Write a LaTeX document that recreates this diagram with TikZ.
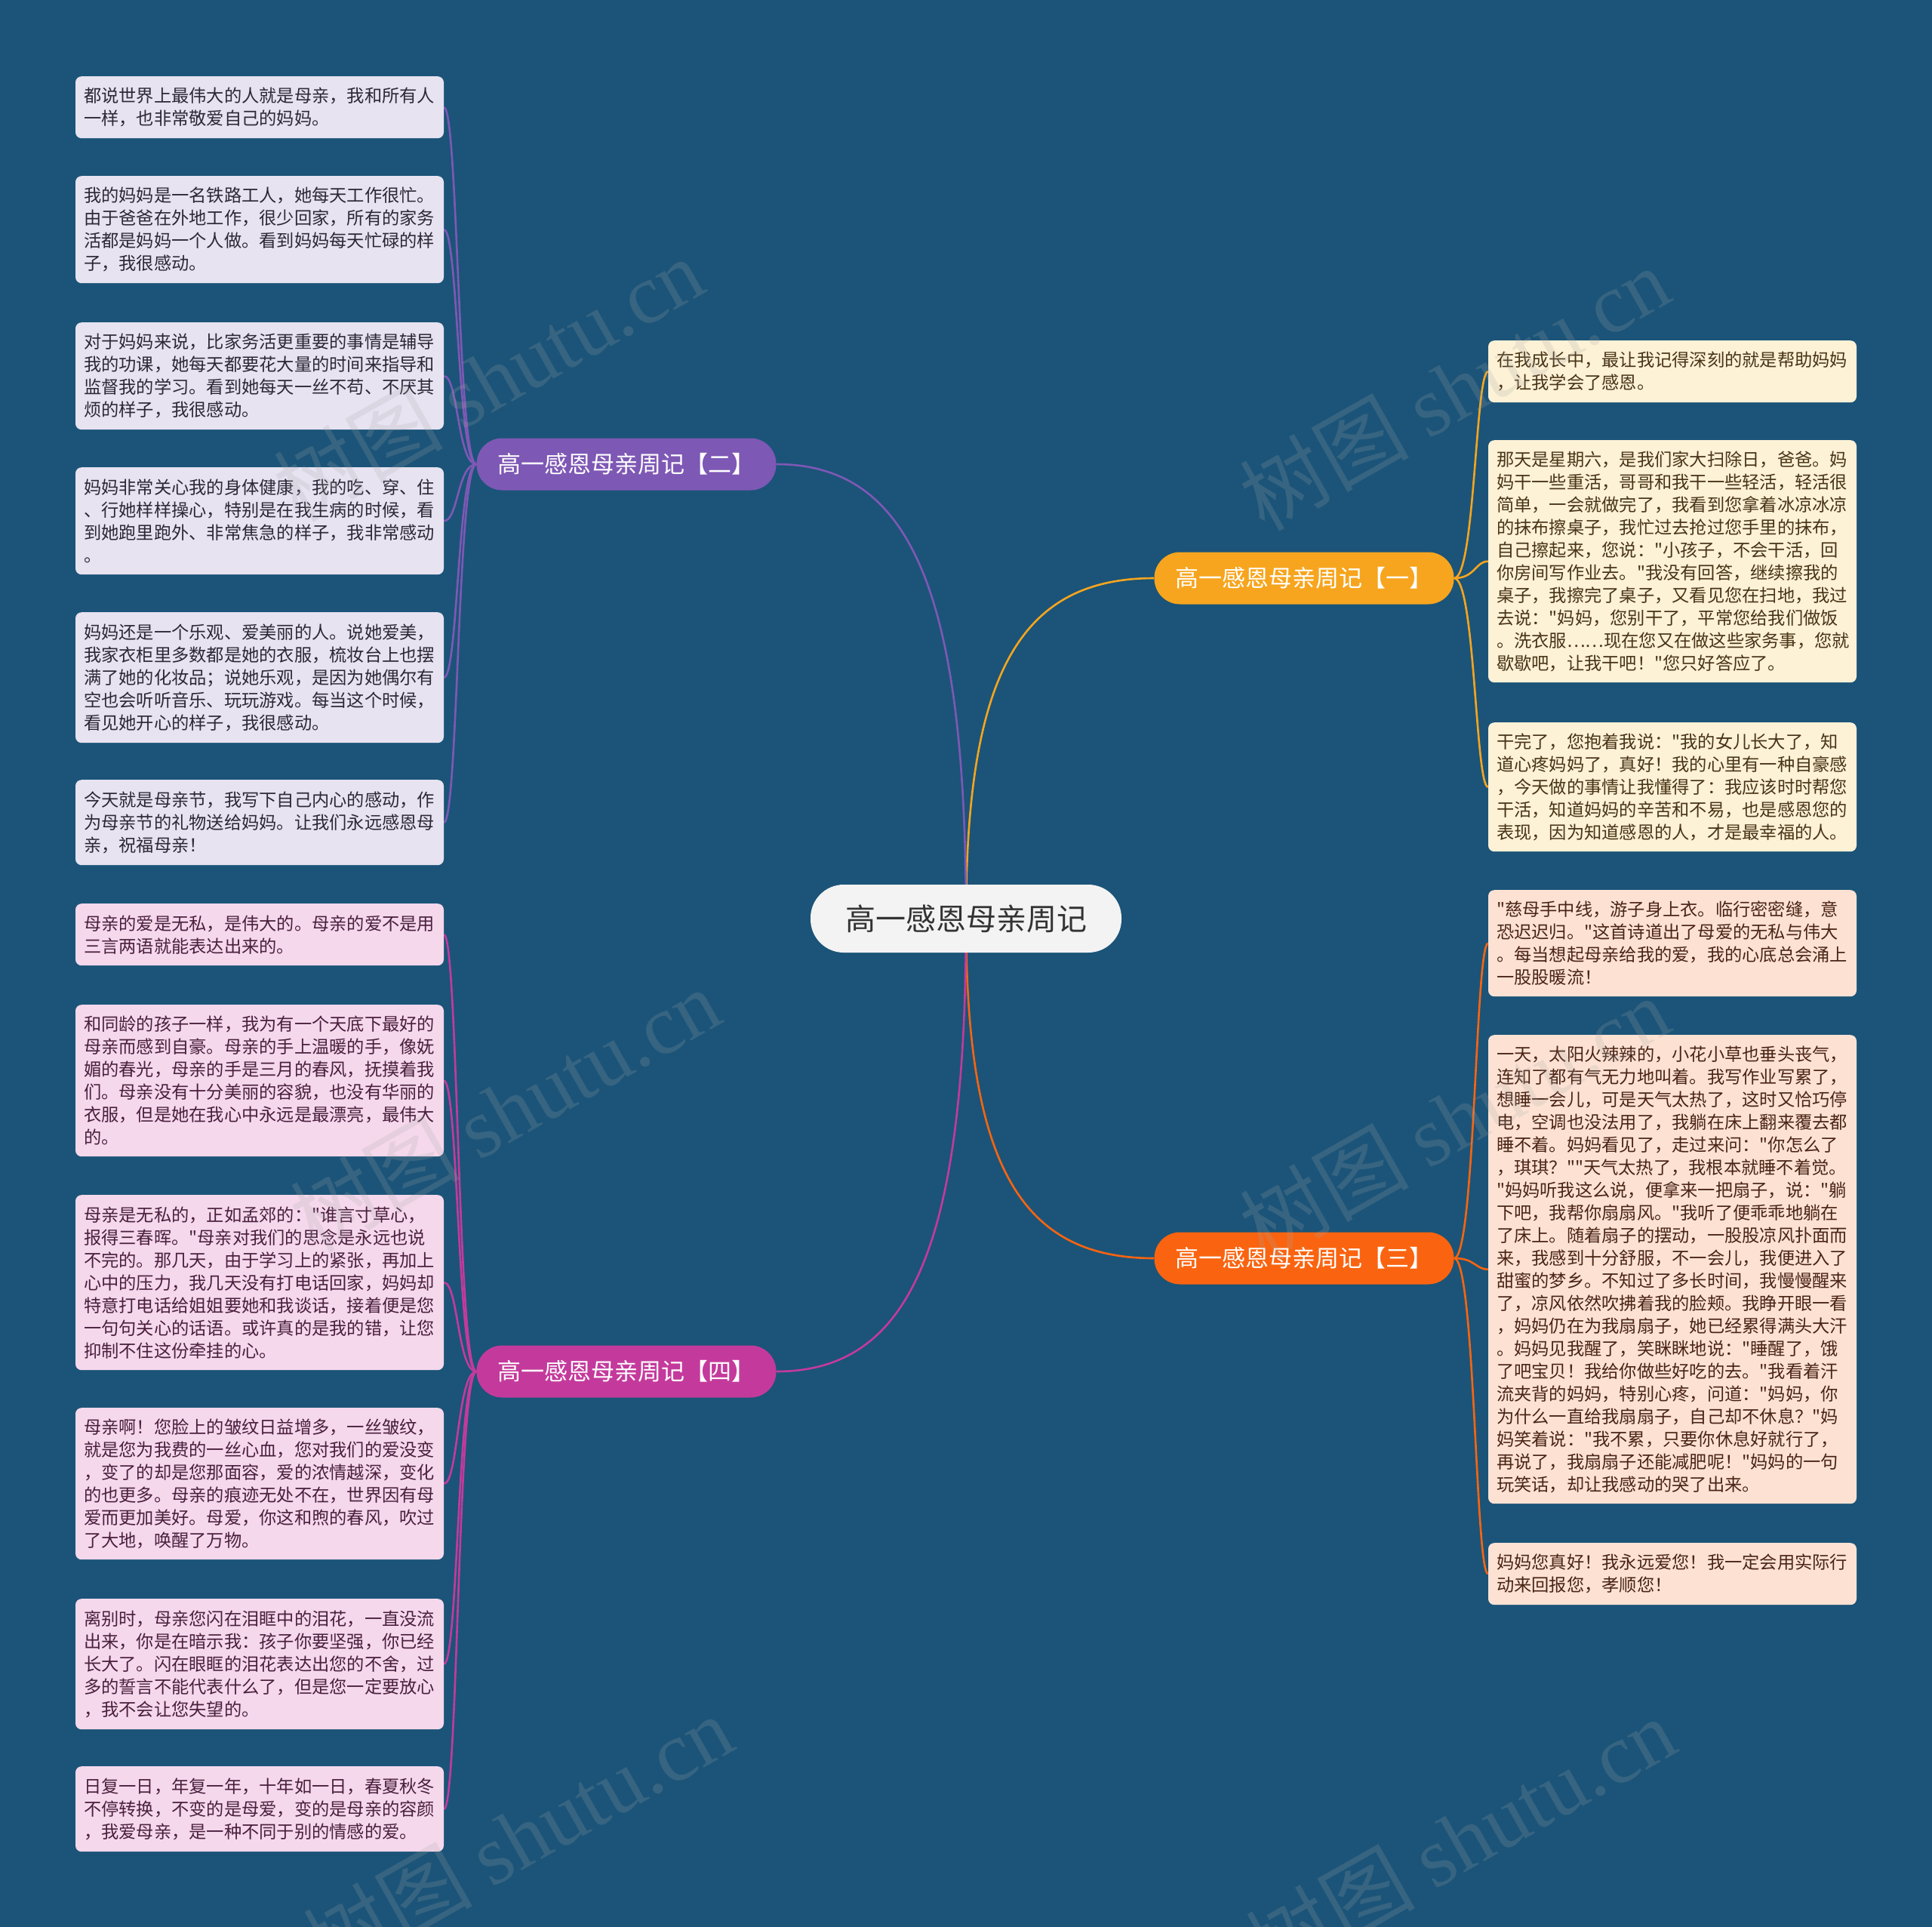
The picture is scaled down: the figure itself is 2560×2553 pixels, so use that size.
\documentclass[tikz,border=0pt]{standalone}
\usepackage{fontspec}
\setmainfont{Noto Sans CJK SC}[Ligatures=TeXOff]
\newfontfamily\wmlatin{Liberation Serif}
\pgfdeclarelayer{bglayer}
\pgfdeclarelayer{edgelayer}
\pgfsetlayers{bglayer,edgelayer,main}
\definecolor{bgc}{RGB}{27,84,120}
\definecolor{colA}{RGB}{247,165,30}
\definecolor{colB}{RGB}{126,88,181}
\definecolor{colC}{RGB}{250,100,16}
\definecolor{colD}{RGB}{196,58,156}
\definecolor{fillA}{RGB}{253,241,214}
\definecolor{fillB}{RGB}{231,227,241}
\definecolor{fillC}{RGB}{253,226,212}
\definecolor{fillD}{RGB}{245,216,236}
\definecolor{textA}{RGB}{72,52,22}
\definecolor{textB}{RGB}{45,40,55}
\definecolor{textC}{RGB}{74,36,21}
\definecolor{textD}{RGB}{74,31,61}
\definecolor{rootfill}{RGB}{243,243,243}
\definecolor{roottext}{RGB}{51,51,51}
\tikzset{
  leafbox/.style={rounded corners=8pt, text width=466pt, inner xsep=11pt, inner ysep=0pt,
    align=left, anchor=north, font=\fontsize{23.25pt}{30pt}\selectfont},
  leafA/.style={leafbox, fill=fillA, text=textA},
  leafB/.style={leafbox, fill=fillB, text=textB},
  leafC/.style={leafbox, fill=fillC, text=textC},
  leafD/.style={leafbox, fill=fillD, text=textD},
  branchbox/.style={rounded corners=34pt, minimum width=397pt, minimum height=69pt,
    inner sep=0pt, font=\fontsize{31pt}{36pt}\selectfont},
  rootbox/.style={rounded corners=44pt, minimum width=412pt, minimum height=90pt,
    inner sep=0pt, fill=rootfill, text=roottext, font=\fontsize{40pt}{46pt}\selectfont},
  conn/.style={line width=2.6pt},
  wmark/.style={rotate=29.5, text=gray!70, opacity=0.2, font=\fontsize{112pt}{118pt}\selectfont},
}
\begin{document}
\begin{tikzpicture}[x=1pt,y=-1pt]
\useasboundingbox (0,0) rectangle (2560,2553);
\begin{pgfonlayer}{bglayer}
\fill[bgc] (0,0) rectangle (2560,2553);
\end{pgfonlayer}

% root and branches
\node[rootbox] (c) at (1280,1217) {高一感恩母亲周记};
\node[branchbox, fill=colA, text=white] (b1) at (1728,766) {高一感恩母亲周记【一】};
\node[branchbox, fill=colB, text=white] (b2) at (830,615) {高一感恩母亲周记【二】};
\node[branchbox, fill=colC, text=white] (b3) at (1728,1667) {高一感恩母亲周记【三】};
\node[branchbox, fill=colD, text=white] (b4) at (830,1817) {高一感恩母亲周记【四】};

% [二] leaves
\node[leafB, minimum height=82pt] (l21) at (344,101) {都说世界上最伟大的人就是母亲，我和所有人\\一样，也非常敬爱自己的妈妈。};
\node[leafB, minimum height=142pt] (l22) at (344,233) {我的妈妈是一名铁路工人，她每天工作很忙。\\由于爸爸在外地工作，很少回家，所有的家务\\活都是妈妈一个人做。看到妈妈每天忙碌的样\\子，我很感动。};
\node[leafB, minimum height=142pt] (l23) at (344,427) {对于妈妈来说，比家务活更重要的事情是辅导\\我的功课，她每天都要花大量的时间来指导和\\监督我的学习。看到她每天一丝不苟、不厌其\\烦的样子，我很感动。};
\node[leafB, minimum height=142pt] (l24) at (344,619) {妈妈非常关心我的身体健康，我的吃、穿、住\\、行她样样操心，特别是在我生病的时候，看\\到她跑里跑外、非常焦急的样子，我非常感动\\。};
\node[leafB, minimum height=173pt] (l25) at (344,811) {妈妈还是一个乐观、爱美丽的人。说她爱美，\\我家衣柜里多数都是她的衣服，梳妆台上也摆\\满了她的化妆品；说她乐观，是因为她偶尔有\\空也会听听音乐、玩玩游戏。每当这个时候，\\看见她开心的样子，我很感动。};
\node[leafB, minimum height=113pt] (l26) at (344,1033) {今天就是母亲节，我写下自己内心的感动，作\\为母亲节的礼物送给妈妈。让我们永远感恩母\\亲，祝福母亲！};

% [四] leaves
\node[leafD, minimum height=82pt] (l41) at (344,1197) {母亲的爱是无私，是伟大的。母亲的爱不是用\\三言两语就能表达出来的。};
\node[leafD, minimum height=201pt] (l42) at (344,1331) {和同龄的孩子一样，我为有一个天底下最好的\\母亲而感到自豪。母亲的手上温暖的手，像妩\\媚的春光，母亲的手是三月的春风，抚摸着我\\们。母亲没有十分美丽的容貌，也没有华丽的\\衣服，但是她在我心中永远是最漂亮，最伟大\\的。};
\node[leafD, minimum height=232pt] (l43) at (344,1583) {母亲是无私的，正如孟郊的："谁言寸草心，\\报得三春晖。"母亲对我们的思念是永远也说\\不完的。那几天，由于学习上的紧张，再加上\\心中的压力，我几天没有打电话回家，妈妈却\\特意打电话给姐姐要她和我谈话，接着便是您\\一句句关心的话语。或许真的是我的错，让您\\抑制不住这份牵挂的心。};
\node[leafD, minimum height=201pt] (l44) at (344,1865) {母亲啊！您脸上的皱纹日益增多，一丝皱纹，\\就是您为我费的一丝心血，您对我们的爱没变\\，变了的却是您那面容，爱的浓情越深，变化\\的也更多。母亲的痕迹无处不在，世界因有母\\爱而更加美好。母爱，你这和煦的春风，吹过\\了大地，唤醒了万物。};
\node[leafD, minimum height=173pt] (l45) at (344,2118) {离别时，母亲您闪在泪眶中的泪花，一直没流\\出来，你是在暗示我：孩子你要坚强，你已经\\长大了。闪在眼眶的泪花表达出您的不舍，过\\多的誓言不能代表什么了，但是您一定要放心\\，我不会让您失望的。};
\node[leafD, minimum height=113pt] (l46) at (344,2340) {日复一日，年复一年，十年如一日，春夏秋冬\\不停转换，不变的是母爱，变的是母亲的容颜\\，我爱母亲，是一种不同于别的情感的爱。};

% [一] leaves
\node[leafA, minimum height=82pt] (r11) at (2216,451) {在我成长中，最让我记得深刻的就是帮助妈妈\\，让我学会了感恩。};
\node[leafA, minimum height=321pt] (r12) at (2216,583) {那天是星期六，是我们家大扫除日，爸爸。妈\\妈干一些重活，哥哥和我干一些轻活，轻活很\\简单，一会就做完了，我看到您拿着冰凉冰凉\\的抹布擦桌子，我忙过去抢过您手里的抹布，\\自己擦起来，您说："小孩子，不会干活，回\\你房间写作业去。"我没有回答，继续擦我的\\桌子，我擦完了桌子，又看见您在扫地，我过\\去说："妈妈，您别干了，平常您给我们做饭\\。洗衣服……现在您又在做这些家务事，您就\\歇歇吧，让我干吧！"您只好答应了。};
\node[leafA, minimum height=171pt] (r13) at (2216,957) {干完了，您抱着我说："我的女儿长大了，知\\道心疼妈妈了，真好！我的心里有一种自豪感\\，今天做的事情让我懂得了：我应该时时帮您\\干活，知道妈妈的辛苦和不易，也是感恩您的\\表现，因为知道感恩的人，才是最幸福的人。};

% [三] leaves
\node[leafC, minimum height=141pt] (r31) at (2216,1179) {"慈母手中线，游子身上衣。临行密密缝，意\\恐迟迟归。"这首诗道出了母爱的无私与伟大\\。每当想起母亲给我的爱，我的心底总会涌上\\一股股暖流！};
\node[leafC, minimum height=621pt] (r32) at (2216,1371) {一天，太阳火辣辣的，小花小草也垂头丧气，\\连知了都有气无力地叫着。我写作业写累了，\\想睡一会儿，可是天气太热了，这时又恰巧停\\电，空调也没法用了，我躺在床上翻来覆去都\\睡不着。妈妈看见了，走过来问："你怎么了\\，琪琪？""天气太热了，我根本就睡不着觉。\\"妈妈听我这么说，便拿来一把扇子，说："躺\\下吧，我帮你扇扇风。"我听了便乖乖地躺在\\了床上。随着扇子的摆动，一股股凉风扑面而\\来，我感到十分舒服，不一会儿，我便进入了\\甜蜜的梦乡。不知过了多长时间，我慢慢醒来\\了，凉风依然吹拂着我的脸颊。我睁开眼一看\\，妈妈仍在为我扇扇子，她已经累得满头大汗\\。妈妈见我醒了，笑眯眯地说："睡醒了，饿\\了吧宝贝！我给你做些好吃的去。"我看着汗\\流夹背的妈妈，特别心疼，问道："妈妈，你\\为什么一直给我扇扇子，自己却不休息？"妈\\妈笑着说："我不累，只要你休息好就行了，\\再说了，我扇扇子还能减肥呢！"妈妈的一句\\玩笑话，却让我感动的哭了出来。};
\node[leafC, minimum height=82pt] (r33) at (2216,2044) {妈妈您真好！我永远爱您！我一定会用实际行\\动来回报您，孝顺您！};

\begin{pgfonlayer}{edgelayer}
% root to branches
\draw[conn, colA] (c.center) .. controls +(0,-324) and +(-178,0) .. (b1.west);
\draw[conn, colB] (c.center) .. controls +(0,-432) and +(178,0) .. (b2.east);
\draw[conn, colC] (c.center) .. controls +(0,325) and +(-178,0) .. (b3.west);
\draw[conn, colD] (c.center) .. controls +(0,433) and +(178,0) .. (b4.east);
% branch to leaves
\foreach \n in {r11,r12,r13}
  \draw[conn, colA] (b1.east) .. controls +(28,0) and +(-17,0) .. (\n.west);
\foreach \n in {r31,r32,r33}
  \draw[conn, colC] (b3.east) .. controls +(28,0) and +(-17,0) .. (\n.west);
\foreach \n in {l21,l22,l23,l24,l25,l26}
  \draw[conn, colB] (b2.west) .. controls +(-25,0) and +(19,0) .. (\n.east);
\foreach \n in {l41,l42,l43,l44,l45,l46}
  \draw[conn, colD] (b4.west) .. controls +(-25,0) and +(19,0) .. (\n.east);
\end{pgfonlayer}

% watermarks
\node[wmark] (w1) at (647,502) {树图 {\wmlatin shutu.cn}};
\node[wmark] (w2) at (1927,514) {树图 {\wmlatin shutu.cn}};
\node[wmark] (w3) at (669,1470) {树图 {\wmlatin shutu.cn}};
\node[wmark] (w4) at (1927,1481) {树图 {\wmlatin shutu.cn}};
\node[wmark] (w5) at (686,2433) {树图 {\wmlatin shutu.cn}};
\node[wmark] (w6) at (1935,2436) {树图 {\wmlatin shutu.cn}};
\end{tikzpicture}
\end{document}
